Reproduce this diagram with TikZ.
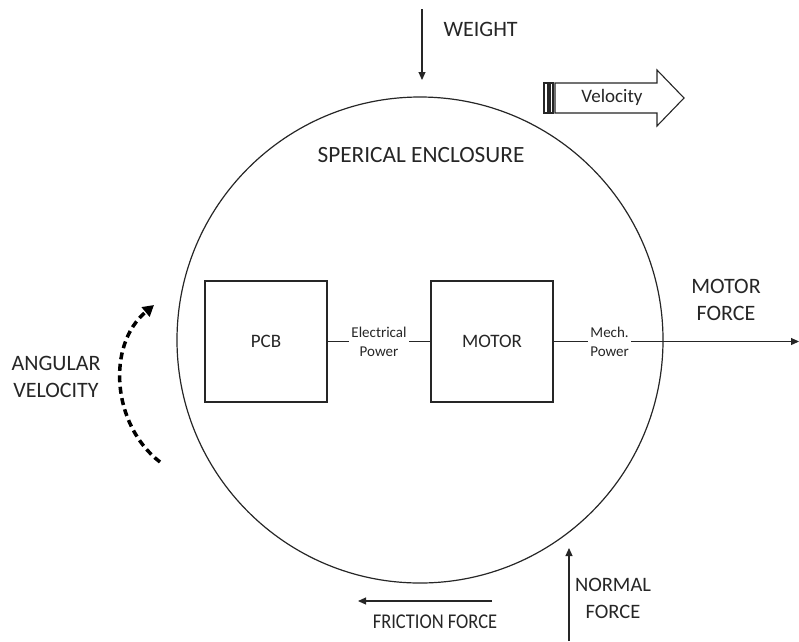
\documentclass[tikz,border=0pt]{standalone}
\usepackage{fontspec}
\setmainfont{Carlito}
\newfontfamily\condensedfont[FakeStretch=0.88]{Carlito}
\usetikzlibrary{arrows.meta}
\definecolor{ink}{gray}{0.15}
\begin{document}
\begin{tikzpicture}[x=1pt,y=-1pt,
  force/.style={draw=ink,line width=1.1pt,-{Triangle[length=8pt,width=7pt]}},
  biglabel/.style={font=\fontsize{22}{27}\selectfont,text=ink,align=center},
  boxlabel/.style={font=\fontsize{19}{23}\selectfont,text=ink},
  smalllabel/.style={font=\fontsize{15}{19}\selectfont,text=ink,align=center,fill=white,inner sep=2.5pt},
  block/.style={draw=ink,line width=1.3pt,minimum width=122pt,minimum height=121pt,inner sep=0pt,boxlabel},
  link/.style={draw=ink,line width=1.1pt}
]
\useasboundingbox (0,0) rectangle (799,641);

% spherical enclosure
\node[draw=ink,circle,line width=1.2pt,minimum size=486pt,inner sep=0pt] (enc) at (420,340) {};
\node[biglabel,font=\fontsize{23.3}{28}\selectfont] (enclabel) at (421,155) {SPERICAL ENCLOSURE};

% internal blocks
\node[block] (pcb) at (266,341.5) {PCB};
\node[block] (motor) at (492,341.5) {MOTOR};
\draw[link] (pcb.east) -- (motor.west)
  node[smalllabel,pos=0.5] (elec) {Electrical\\Power};

% motor force
\coordinate (mfend) at (799,341.5);
\draw[force] (motor.east) -- (mfend)
  node[smalllabel,pos=0.228] (mech) {Mech.\\Power};
\node[biglabel] (mflabel) at (726,300) {MOTOR\\FORCE};

% weight
\coordinate (wtop) at (422,9);
\coordinate (wtip) at (422,80);
\draw[force] (wtop) -- (wtip);
\node[biglabel,anchor=west] (wlabel) at (440,29) {WEIGHT};

% friction force
\coordinate (fstart) at (492,601);
\coordinate (ftip) at (358,601);
\draw[force] (fstart) -- (ftip);
\node[biglabel,font=\condensedfont\fontsize{21}{26}\selectfont] (flabel) at (435,622) {FRICTION FORCE};

% normal force
\coordinate (nstart) at (569,641);
\coordinate (ntip) at (569,548);
\draw[force] (nstart) -- (ntip);
\node[biglabel,font=\fontsize{20.5}{27}\selectfont] (nlabel) at (613,598) {NORMAL\\FORCE};

% angular velocity
\coordinate (astart) at (160,462);
\coordinate (atip) at (154,305);
\draw[draw=black,line width=3.5pt,dash pattern=on 7pt off 4.5pt,
      -{Triangle[length=11pt,width=12pt]}]
  (astart) .. controls (112,425) and (106,345) .. (atip);
\node[biglabel] (alabel) at (56,377) {ANGULAR\\VELOCITY};

% velocity block arrow with stripes
\draw[draw=ink,line width=1.1pt,fill=white]
  (555,83) -- (657,83) -- (657,70) -- (684,98) -- (657,126) -- (657,113) -- (555,113) -- cycle;
\draw[draw=ink,line width=1.1pt] (544,83) rectangle (548,113);
\draw[draw=ink,line width=1.1pt] (550,83) rectangle (553,113);
\node[boxlabel] (vlabel) at (612,97) {Velocity};
\end{tikzpicture}
\end{document}
